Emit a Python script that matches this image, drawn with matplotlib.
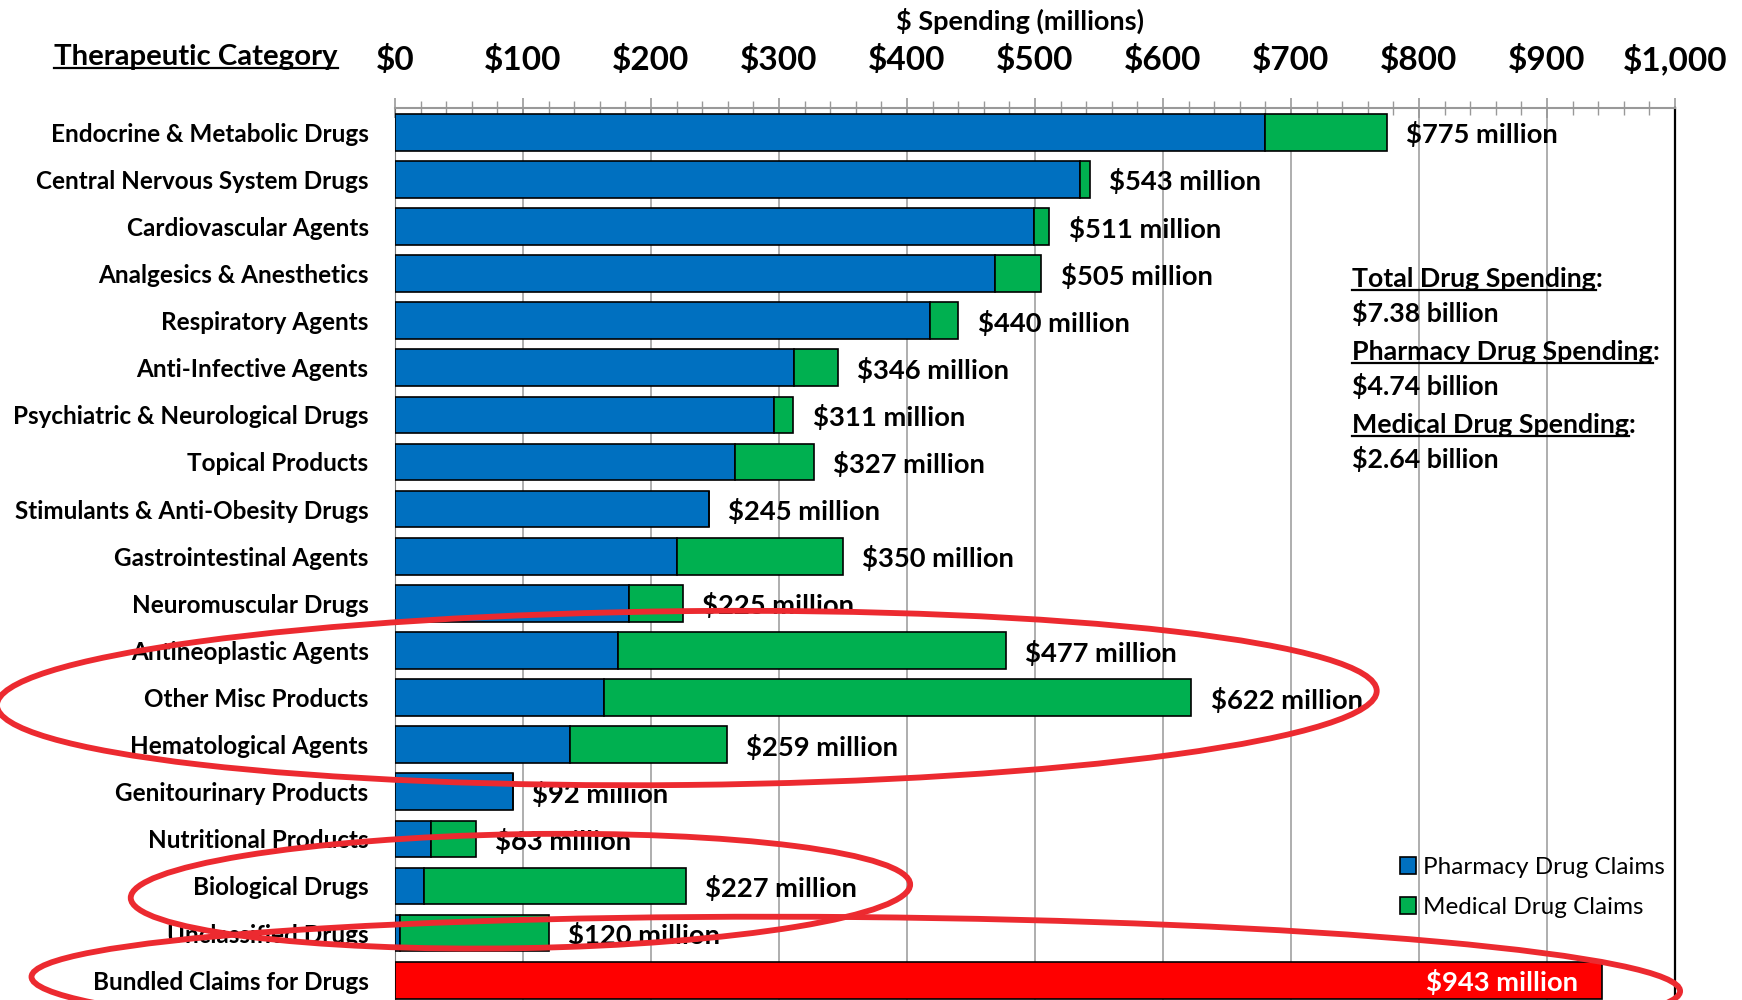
import matplotlib
matplotlib.use("Agg")
import matplotlib.pyplot as plt
from matplotlib.patches import Ellipse, Patch
from matplotlib.lines import Line2D
from matplotlib.transforms import IdentityTransform
from matplotlib.ticker import MultipleLocator, FuncFormatter

# ---------------- data ----------------
categories = [
    "Endocrine & Metabolic Drugs", "Central Nervous System Drugs", "Cardiovascular Agents",
    "Analgesics & Anesthetics", "Respiratory Agents", "Anti-Infective Agents",
    "Psychiatric & Neurological Drugs", "Topical Products", "Stimulants & Anti-Obesity Drugs",
    "Gastrointestinal Agents", "Neuromuscular Drugs", "Antineoplastic Agents",
    "Other Misc Products", "Hematological Agents", "Genitourinary Products",
    "Nutritional Products", "Biological Drugs", "Unclassified Drugs", "Bundled Claims for Drugs",
]
pharmacy = [680, 535, 499, 469, 418, 312, 296, 266, 245, 220, 183, 174, 163, 137, 92, 28, 23, 4, 0]
medical = [95, 8, 12, 36, 22, 34, 15, 61, 0, 130, 42, 303, 459, 122, 0, 35, 204, 116, 0]
bundled = [0] * 18 + [943]
total_labels = [775, 543, 511, 505, 440, 346, 311, 327, 245, 350, 225, 477, 622, 259, 92, 63, 227, 120, 943]
tick_values = [0, 100, 200, 300, 400, 500, 600, 700, 800, 900, 1000]
summary = [("Total Drug Spending", "$7.38 billion"),
           ("Pharmacy Drug Spending", "$4.74 billion"),
           ("Medical Drug Spending", "$2.64 billion")]
series_names = ["Pharmacy Drug Claims", "Medical Drug Claims"]

BLUE, GREEN, RED = "#0070C0", "#00B050", "#FF0000"
FONT = ["Lato", "DejaVu Sans"]
plt.rcParams["font.family"] = FONT

W, H = 1742, 1000
fig = plt.figure(figsize=(W / 100, H / 100), dpi=100)
ax = fig.add_axes([395 / W, 0, 1280 / W, 892 / H])

n = len(categories)
y = list(range(n))
bh = 0.78
ax.barh(y, pharmacy, height=bh, color=BLUE, edgecolor="black", linewidth=1.2, zorder=3)
ax.barh(y, medical, left=pharmacy, height=bh, color=GREEN, edgecolor="black", linewidth=1.2, zorder=3)
bidx = [i for i in y if bundled[i] > 0]
ax.barh(bidx, [bundled[i] for i in bidx], height=bh, color=RED, edgecolor="black", linewidth=1.2, zorder=3)

ax.set_xlim(0, 1000)
ax.set_ylim(18.42, -0.514)

# axis styling
ax.xaxis.tick_top()
ax.set_xticks(tick_values)
ax.xaxis.set_major_formatter(FuncFormatter(lambda v, p: f"${int(v):,}"))
ax.xaxis.set_minor_locator(MultipleLocator(20))
ax.tick_params(axis="x", which="major", direction="inout", length=14, width=1.2, color="#999999",
               pad=16.5, labelsize=24)
ax.tick_params(axis="x", which="minor", direction="inout", length=10, width=1.0, color="#999999")
for lab in ax.get_xticklabels():
    lab.set_fontweight("bold")
ax.xaxis.grid(True, which="major", color="#999999", linewidth=1.1)
ax.set_axisbelow(True)

ax.set_yticks(y)
ax.set_yticklabels(categories, fontsize=17.5, fontweight="bold")
ax.tick_params(axis="y", length=0, pad=19)

ax.spines["bottom"].set_visible(False)
ax.spines["top"].set_color("#999999")
ax.spines["top"].set_linewidth(1.5)
ax.spines["left"].set_color("#777777")
ax.spines["right"].set_color("black")
ax.spines["right"].set_linewidth(1.6)

# value labels
for i, t in enumerate(total_labels):
    if bundled[i] > 0:
        ax.annotate(f"${t} million", (bundled[i], i), xytext=(-17, -1), textcoords="offset points",
                    ha="right", va="center", color="white", fontsize=19.7, fontweight="bold", zorder=5)
    else:
        ax.annotate(f"${t} million", (pharmacy[i] + medical[i], i), xytext=(14, -1.5),
                    textcoords="offset points", ha="left", va="center", color="black",
                    fontsize=19.7, fontweight="bold", zorder=5)

# header texts
fig.text(1020 / W, 1 - 21 / H, "$ Spending (millions)", ha="center", va="center",
         fontsize=19.5, fontweight="bold")

fig.canvas.draw()
renderer = fig.canvas.get_renderer()
to_fig = fig.transFigure.inverted()


def underlined(x_px, base_px, txt, suffix, size, ha="left"):
    t = fig.text(x_px / W, 1 - base_px / H, txt, ha=ha, va="baseline", fontsize=size, fontweight="bold")
    bb = t.get_window_extent(renderer)
    yb = (H - base_px) - 3
    p0 = to_fig.transform((bb.x0, yb))
    p1 = to_fig.transform((bb.x1, yb))
    fig.add_artist(Line2D([p0[0], p1[0]], [p0[1], p1[1]], color="black", linewidth=1.6))
    if suffix:
        fig.text(bb.x1 / W, 1 - base_px / H, suffix, ha="left", va="baseline", fontsize=size,
                 fontweight="bold")


underlined(196, 65, "Therapeutic Category", "", 21.2, ha="center")

bases = [287, 322, 360, 395, 433, 468]
for k, (head, val) in enumerate(summary):
    underlined(1352, bases[2 * k], head, ":", 19.3)
    fig.text(1352 / W, 1 - bases[2 * k + 1] / H, val, ha="left", va="baseline", fontsize=19.3,
             fontweight="bold")

# legend
handles = [Patch(facecolor=BLUE, edgecolor="black", linewidth=1.2),
           Patch(facecolor=GREEN, edgecolor="black", linewidth=1.2)]
leg = ax.legend(handles, series_names, loc="upper left", bbox_to_anchor=(1400 / W, 1 - 857 / H),
                bbox_transform=fig.transFigure, frameon=False, fontsize=17.5, handlelength=0.66,
                handleheight=0.66, handletextpad=0.3, labelspacing=0.78, borderaxespad=0,
                borderpad=0)

# red hand-drawn highlight ellipses (data-space centre/size)
px_per_x = 1280 / 1000
px_per_row = 892 / (18.42 + 0.514)
highlights = [(228, 12.01, 1078, 3.69, 0.6), (98, 16.11, 609, 2.42, 1.0), (360, 18.08, 1288, 2.84, -0.5)]
for cx, cy, w, h, ang in highlights:
    c = ax.transData.transform((cx, cy))
    e = Ellipse(c, w * px_per_x, h * px_per_row, angle=ang, transform=IdentityTransform(),
                fill=False, edgecolor="#EC2A30", linewidth=4.2, clip_on=False, zorder=20)
    fig.add_artist(e)

fig.savefig("out.png", dpi=100)
